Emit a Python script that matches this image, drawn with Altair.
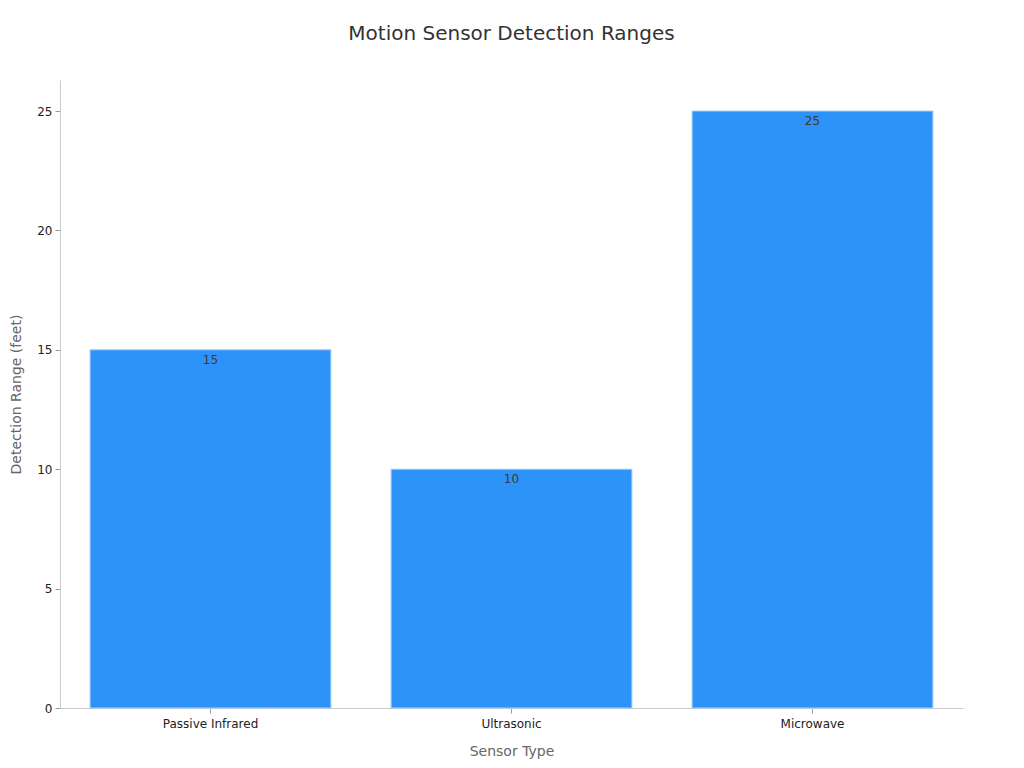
import altair as alt
import pandas as pd

sensors = ["Passive Infrared", "Ultrasonic", "Microwave"]
ranges = [15, 10, 25]

df = pd.DataFrame({"Sensor Type": sensors, "Range": ranges})

FONT = "DejaVu Sans"

base = alt.Chart(df).encode(
    x=alt.X(
        "Sensor Type:N",
        sort=sensors,
        scale=alt.Scale(paddingInner=0.2, paddingOuter=0.1),
        axis=alt.Axis(
            title="Sensor Type",
            labelAngle=0,
            labelFontSize=12,
            labelColor="#222222",
            titleFontSize=14,
            titleColor="#666666",
            titleFontWeight="normal",
            titlePadding=15,
            domainColor="#cccccc",
            tickColor="#999999",
            tickSize=5,
            labelPadding=5,
        ),
    ),
    y=alt.Y(
        "Range:Q",
        scale=alt.Scale(domain=[0, 26.3], nice=False),
        axis=alt.Axis(
            title="Detection Range (feet)",
            values=[0, 5, 10, 15, 20, 25],
            grid=False,
            labelFontSize=12,
            labelColor="#222222",
            titleFontSize=14,
            titleColor="#666666",
            titleFontWeight="normal",
            titlePadding=13,
            domainColor="#cccccc",
            tickColor="#999999",
            tickSize=5,
            labelPadding=3,
        ),
    ),
)

bars = base.mark_bar(color="#2E93F8", stroke="#9fcdf8", strokeWidth=1)
labels = base.mark_text(baseline="top", dy=5, fontSize=12, color="#3a3a3a", font=FONT).encode(
    text=alt.Text("Range:Q")
)

chart = (
    alt.layer(bars, labels)
    .properties(
        width=903,
        height=628,
        autosize=alt.AutoSizeParams(type="none"),
        padding={"left": 52, "top": 72, "right": 53, "bottom": 60},
        title=alt.TitleParams(
            "Motion Sensor Detection Ranges",
            fontSize=20,
            fontWeight="normal",
            color="#333333",
            font=FONT,
            anchor="middle",
            offset=36,
        ),
    )
    .configure(font=FONT)
    .configure_view(stroke=None)
)

chart.save("out.html", embed_options={"renderer": "svg", "actions": False})
